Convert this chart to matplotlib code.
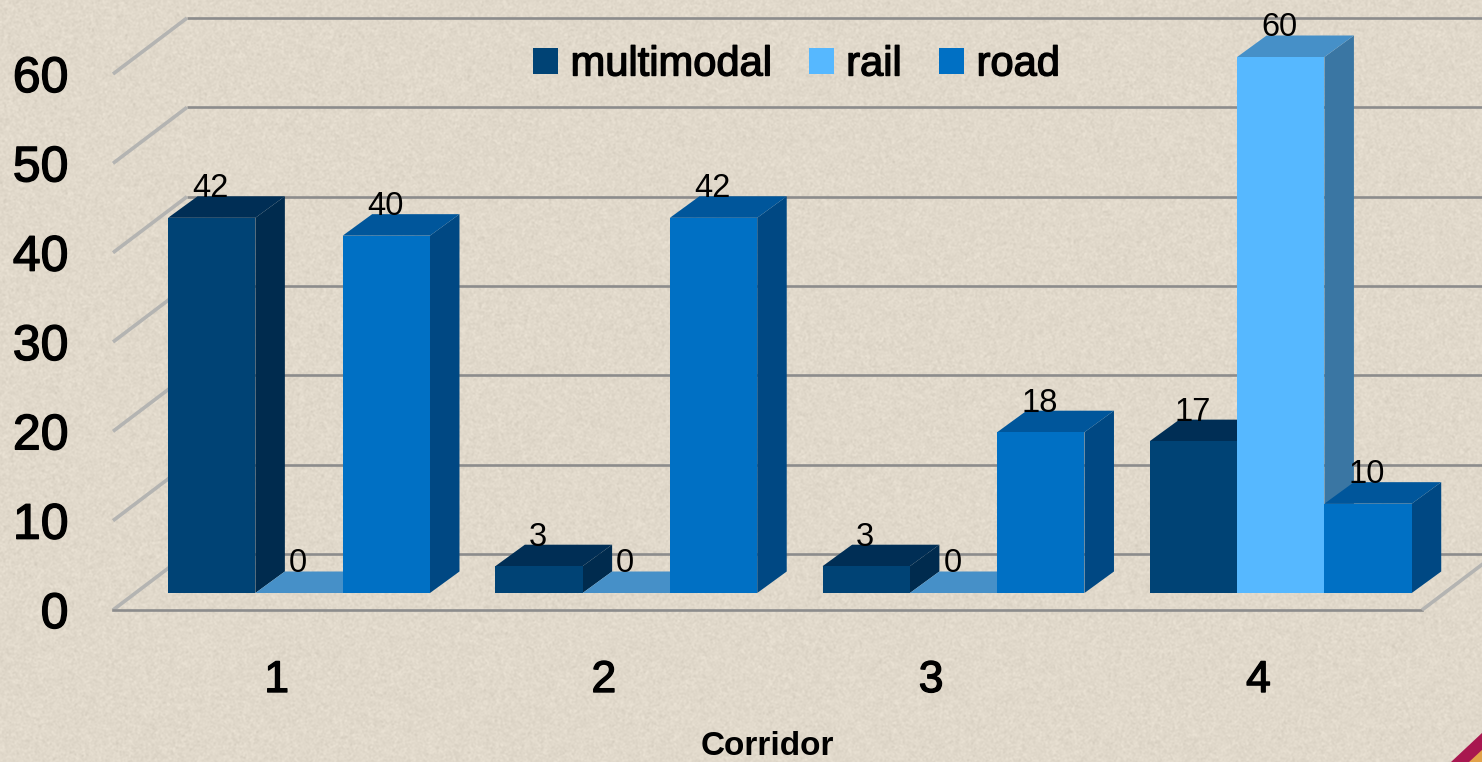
import numpy as np
import matplotlib
matplotlib.use("Agg")
import matplotlib.pyplot as plt
import matplotlib.patheffects as pe
from matplotlib.patches import Patch, Polygon
from matplotlib.transforms import Affine2D

plt.rcParams['font.family'] = ['Liberation Sans', 'DejaVu Sans']

# ---- data ----
corridors = [1, 2, 3, 4]
multimodal = [42, 3, 3, 17]
rail = [0, 0, 0, 60]
road = [40, 42, 18, 10]
y_ticks = [0, 10, 20, 30, 40, 50, 60]
series_names = ['multimodal', 'rail', 'road']

# ---- styles ----
W, H = 1482, 762
front_cols = ['#004375', '#56B8FF', '#0070C4']
side_cols = ['#002B4E', '#3A76A3', '#004883']
top_cols = ['#002E55', '#4690C8', '#00569B']
BG = '#E1D9CB'
GRID = '#8C8C8C'

fig = plt.figure(figsize=(W / 100, H / 100), dpi=100, facecolor=BG)

# paper-like background texture (decoration only)
rng = np.random.default_rng(7)
tex = rng.normal(0, 1.0, (H, W))
kernel = np.array([1, 2, 1]) / 4
tex = np.apply_along_axis(lambda r: np.convolve(r, kernel, 'same'), 1, tex)
tex = np.apply_along_axis(lambda c: np.convolve(c, kernel, 'same'), 0, tex)
base = np.array(matplotlib.colors.to_rgb(BG))
img = base[None, None, :] + (np.clip(tex, -1.6, 1.0) * 0.032)[:, :, None]
bg_ax = fig.add_axes([0, 0, 1, 1], zorder=0)
bg_ax.imshow(np.clip(img, 0, 1), aspect='auto', interpolation='bilinear')
bg_ax.axis('off')
# corner streak of the slide decoration
bg_ax.add_patch(Polygon([(1450, 762), (1482, 732), (1482, 762)], closed=True,
                        facecolor='#A8174F', edgecolor='none'))
bg_ax.add_patch(Polygon([(1468, 762), (1482, 749), (1482, 762)], closed=True,
                        facecolor='#E2A24A', edgecolor='none'))

# axes = front plane of the chart box
L, R, B, T = 113, 1422, 610, 74
ax = fig.add_axes([L / W, 1 - B / H, (R - L) / W, (B - T) / H], zorder=1)
ax.patch.set_alpha(0)
ax.set_xlim(0.5, 4.5)
ax.set_ylim(0, 60)
for s in ax.spines.values():
    s.set_visible(False)

ax.set_xticks(corridors)
ax.set_yticks(y_ticks)
ax.tick_params(axis='both', length=0)
ax.tick_params(axis='x', pad=36, labelsize=32)
ax.tick_params(axis='y', pad=32, labelsize=36)
stroke = [pe.withStroke(linewidth=1.0, foreground='black')]
for t in ax.get_xticklabels() + ax.get_yticklabels():
    t.set_path_effects(stroke)
ax.set_xlabel('Corridor', fontsize=24, fontweight='bold')
ax.xaxis.set_label_coords(0.4996, -0.2255)

# pixel offsets of the box depth / bar plane
back_tr = ax.transData + Affine2D().translate(74, 56)
bar_tr = ax.transData + Affine2D().translate(22.4, 17.0)
xs = (R - L) / 4
ys = (B - T) / 60
DX, DY = 29.5 / xs, 21.5 / ys
bw = 87.3 / xs

# back wall gridlines
for v in y_ticks:
    ax.plot([0.5, 4.72], [v, v], color=GRID, lw=1.9, transform=back_tr,
            clip_on=False, zorder=1, solid_capstyle='butt')
    # left wall edge: front-plane point to back-wall point
    ax.plot([0.5, 0.5 + 74 / xs], [v, v + 56 / ys], color='#B4B4B2', lw=2.6,
            clip_on=False, zorder=1, solid_capstyle='butt')
# floor
ax.plot([0.5, 4.5], [0, 0], color=GRID, lw=1.9, clip_on=False, zorder=1)
ax.plot([4.5, 4.5 + 74 / xs], [0, 56 / ys], color='#B4B4B2', lw=2.6,
        clip_on=False, zorder=1, solid_capstyle='butt')

# bars
for c_i, c in enumerate(corridors):
    vals = [multimodal[c_i], rail[c_i], road[c_i]]
    for s_i, v in enumerate(vals):
        x0 = c + (s_i - 1.5) * bw
        x1 = x0 + bw
        ax.fill([x1, x1 + DX, x1 + DX, x1], [0, DY, v + DY, v],
                color=side_cols[s_i], transform=bar_tr, clip_on=False,
                zorder=2 + c_i + s_i * 0.1, lw=0)
        ax.fill([x0, x1, x1 + DX, x0 + DX], [v, v, v + DY, v + DY],
                color=top_cols[s_i], transform=bar_tr, clip_on=False,
                zorder=2 + c_i + s_i * 0.1, lw=0)
        ax.bar(x0, v, width=bw, align='edge', color=front_cols[s_i],
               transform=bar_tr, clip_on=False,
               zorder=2.01 + c_i + s_i * 0.1, lw=0)
        ax.text(x0 + bw / 2 - 1 / xs, v + 29 / ys, str(v), transform=bar_tr, ha='center',
                va='center', fontsize=23.5, color='black', zorder=20, clip_on=False)

handles = [Patch(facecolor=col, edgecolor='none', label=n)
           for col, n in zip(front_cols, series_names)]
leg = fig.legend(handles=handles, loc='center', bbox_to_anchor=(796.5 / W, 1 - 64.5 / H),
                 ncol=3, frameon=False, fontsize=30, handlelength=0.6, handleheight=0.6,
                 handletextpad=0.3, columnspacing=0.9, borderpad=0, borderaxespad=0)
leg.set_zorder(5)
for t in leg.get_texts():
    t.set_path_effects(stroke)

fig.savefig('out.png', dpi=100, facecolor=BG)
